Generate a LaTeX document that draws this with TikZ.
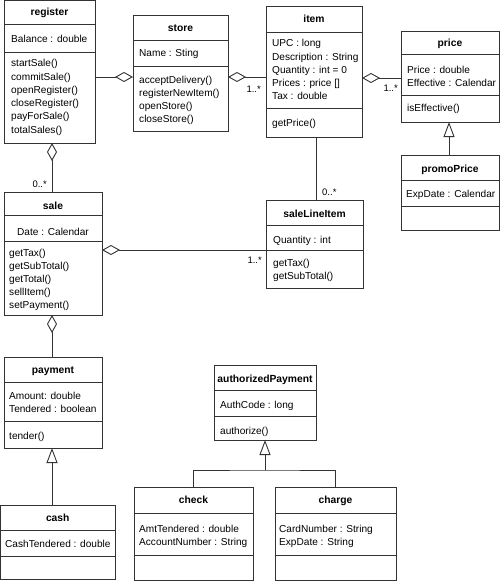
\documentclass[tikz,border=0pt]{standalone}
\usepackage{fontspec}
\setmainfont{Liberation Sans}
\usetikzlibrary{arrows.meta}
\definecolor{ink}{HTML}{333333}
\tikzset{
  box/.style={draw=ink, line width=0.9pt, fill=white, inner sep=0pt, outer sep=0pt, anchor=north west},
  sepline/.style={draw=ink, line width=0.9pt},
  txt/.style={font=\fontsize{10.1}{12}\selectfont, inner sep=0pt, text=black},
  ttl/.style={font=\fontsize{10.3}{12}\selectfont\bfseries, inner sep=0pt, text=black, anchor=base},
  mult/.style={font=\fontsize{9.5}{11}\selectfont, inner sep=0pt, text=black},
  conn/.style={draw=ink, line width=0.9pt},
  agg/.style={conn, -{Diamond[open, length=18pt, width=10pt, line width=0.9pt]}},
  gen/.style={conn, -{Triangle[open, length=15pt, width=11pt, line width=0.9pt]}},
}
% #1 name, #2 x1, #3 y1, #4 x2, #5 y2, #6 sep1, #7 sep2
\newcommand\umlbox[7]{%
  \node[box, minimum width={#4-#2}, minimum height={#5-#3}] (#1) at (#2,#3) {};
  \draw[sepline] (#2,#6) -- (#4,#6);
  \draw[sepline] (#2,#7) -- (#4,#7);
}
% #1 name prefix, #2 x, #3 first baseline, #4 spacing, #5 list
\newcommand\umllines[5]{%
  \foreach \t [count=\i] in {#5} {
    \node[txt, anchor=base west] (#1\i) at (#2, {#3+(\i-1)*#4}) {\t};
  }
}
\begin{document}
\begin{tikzpicture}[x=1pt, y=-1pt]
\useasboundingbox (0,0) rectangle (500,583);

% register
\umlbox{register}{4}{0.5}{95}{143}{24}{52}
\node[ttl] (registerT) at (49.5,16) {register};
\umllines{registerA}{11}{43}{13.2}{Balance : double}
\umllines{registerM}{11}{67}{13.2}{startSale(),commitSale(),openRegister(),closeRegister(),payForSale(),totalSales()}

% store
\umlbox{store}{133}{15}{228}{131}{40}{66}
\node[ttl] (storeT) at (180.5,32) {store};
\umllines{storeA}{139}{57}{13}{Name : Sting}
\umllines{storeM}{139}{84}{13}{acceptDelivery(),registerNewItem(),openStore(),closeStore()}

% item
\umlbox{item}{266}{6}{362}{137}{32}{108}
\node[ttl] (itemT) at (314,23) {item};
\umllines{itemA}{272}{47}{13.2}{UPC : long,Description : String,Quantity : int = 0,Prices : price [],Tax : double}
\umllines{itemM}{272}{127}{13.2}{getPrice()}

% price
\umlbox{price}{401}{31}{499}{122}{54}{95}
\node[ttl] (priceT) at (450,47) {price};
\umllines{priceA}{407}{74}{12.7}{Price : double,Effective : Calendar}
\umllines{priceM}{407}{112}{13}{isEffective()}

% promoPrice
\umlbox{promoPrice}{401}{155}{499}{230}{180}{206}
\node[ttl] (promoPriceT) at (450,172) {promoPrice};
\umllines{promoPriceA}{406}{197}{13}{ExpDate : Calendar}

% sale
\umlbox{sale}{4}{192}{102}{315}{215}{241}
\node[ttl] (saleT) at (53,209) {sale};
\node[txt, anchor=base] (saleA1) at (53,235) {Date : Calendar};
\umllines{saleM}{9}{256}{13.2}{getTax(),getSubTotal(),getTotal(),sellItem(),setPayment()}

% saleLineItem
\umlbox{saleLineItem}{266}{200}{363}{288}{225}{250}
\node[ttl] (saleLineItemT) at (314.5,217) {saleLineItem};
\umllines{saleLineItemA}{273}{243}{13}{Quantity : int}
\umllines{saleLineItemM}{273}{266}{13}{getTax(),getSubTotal()}

% payment
\umlbox{payment}{4}{357}{102}{448}{382}{421}
\node[ttl] (paymentT) at (53,373) {payment};
\umllines{paymentA}{9}{399}{13}{Amount: double,Tendered : boolean}
\umllines{paymentM}{9}{439}{13}{tender()}

% cash
\umlbox{cash}{0.5}{505}{115}{579}{530}{556}
\node[ttl] (cashT) at (57.75,521) {cash};
\umllines{cashA}{5}{547}{13}{CashTendered : double}

% authorizedPayment
\umlbox{authorizedPayment}{214}{365}{316}{440}{390}{416}
\node[ttl] (authorizedPaymentT) at (265,382) {authorizedPayment};
\umllines{authorizedPaymentA}{220}{408}{13}{AuthCode : long}
\umllines{authorizedPaymentM}{220}{434}{13}{authorize()}

% check
\umlbox{check}{134}{487}{253}{580}{513}{555}
\node[ttl] (checkT) at (193.5,503) {check};
\umllines{checkA}{139}{532}{13}{AmtTendered : double,AccountNumber : String}

% charge
\umlbox{charge}{275}{487}{396}{580}{513}{555}
\node[ttl] (chargeT) at (335.5,503) {charge};
\umllines{chargeA}{279}{532}{13}{CardNumber : String,ExpDate : String}

% connectors
\draw[agg] (register.east |- 0,77) -- (store.west |- 0,77);
\draw[agg] (item.west |- 0,77) -- (store.east |- 0,77);
\node[mult, anchor=base east] (m1) at (261,93) {1..*};
\draw[agg] (price.west |- 0,78) -- (item.east |- 0,78);
\node[mult, anchor=base east] (m2) at (398,92) {1..*};
\draw[agg] (52,0 |- sale.north) -- (52,0 |- register.south);
\node[mult, anchor=base east] (m3) at (47,187) {0..*};
\draw[conn] (316,0 |- item.south) -- (316,0 |- saleLineItem.north);
\node[mult, anchor=base west] (m4) at (322,195) {0..*};
\draw[agg] (saleLineItem.west |- 0,250) -- (sale.east |- 0,250);
\node[mult, anchor=base east] (m5) at (262,263) {1..*};
\draw[agg] (52,0 |- payment.north) -- (52,0 |- sale.south);
\draw[gen] (52,0 |- cash.north) -- (52,0 |- payment.south);
\draw[gen] (449,0 |- promoPrice.north) -- (449,0 |- price.south);
\coordinate (joint) at (265,470);
\draw[gen] (joint) -- (authorizedPayment.south);
\draw[conn] (check.north) |- (joint) -| (charge.north);
\end{tikzpicture}
\end{document}
